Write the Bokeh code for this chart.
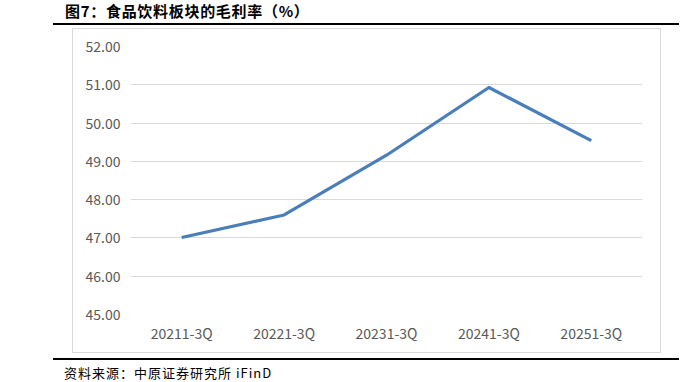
from bokeh.plotting import figure
from bokeh.models import FixedTicker, Range1d, FactorRange, NumeralTickFormatter, Div
from bokeh.layouts import column
from bokeh.embed import file_html
from bokeh.resources import INLINE

categories = ["20211-3Q", "20221-3Q", "20231-3Q", "20241-3Q", "20251-3Q"]
gross_margin = [47.01, 47.60, 49.16, 50.93, 49.54]
y_ticks = [45, 46, 47, 48, 49, 50, 51, 52]
title_text = "图7：食品饮料板块的毛利率（%）"
source_text = "资料来源：中原证券研究所 iFinD"

title_div = Div(
    text=(f'<div style="box-sizing:border-box;width:626px;height:25px;'
          f'font-family:\'Noto Sans CJK SC\';font-weight:bold;font-size:15px;letter-spacing:0.7px;'
          f'line-height:15px;padding:3px 0 5px 12px;border-bottom:2px solid #000;'
          f'color:#000;white-space:nowrap;">{title_text}</div>'),
    width=626, height=25, margin=(0, 0, 0, 53))

p = figure(width=589, height=325, output_backend="svg", toolbar_location=None,
           x_range=FactorRange(factors=categories), y_range=Range1d(45, 52),
           min_border_left=58, min_border_right=19, min_border_top=18, min_border_bottom=39,
           margin=(3, 0, 0, 72))
p.styles = {"outline": "1px solid #D9D9D9", "outline-offset": "-1px"}
p.outline_line_color = None
p.background_fill_color = None
p.border_fill_color = None

p.line(categories, gross_margin, line_color="#4A7EBB", line_width=3.2, line_join="round")

p.xgrid.grid_line_color = None
p.ygrid.grid_line_color = "#D9D9D9"
p.ygrid.grid_line_width = 1
p.yaxis.ticker = FixedTicker(ticks=y_ticks)
p.yaxis.formatter = NumeralTickFormatter(format="0.00")
for ax in (p.xaxis, p.yaxis):
    ax.axis_line_color = None
    ax.major_tick_line_color = None
    ax.minor_tick_line_color = None
    ax.major_tick_out = 0
    ax.major_tick_in = 0
    ax.minor_tick_out = 0
    ax.major_label_text_color = "#595959"
    ax.major_label_text_font = "Noto Sans CJK SC"
    ax.major_label_text_font_size = "14px"
p.yaxis.major_label_standoff = 10
p.xaxis.major_label_standoff = 8

source_div = Div(
    text=(f'<div style="box-sizing:border-box;width:626px;height:22px;'
          f'font-family:\'Noto Sans CJK SC\';font-size:13px;letter-spacing:1px;line-height:15px;'
          f'padding:5px 0 0 11px;border-top:2px solid #000;'
          f'color:#000;white-space:nowrap;">{source_text}</div>'),
    width=626, height=22, margin=(5, 0, 0, 53))

layout = column(title_div, p, source_div, spacing=0)
open("out.html", "w").write(file_html(layout, INLINE))
